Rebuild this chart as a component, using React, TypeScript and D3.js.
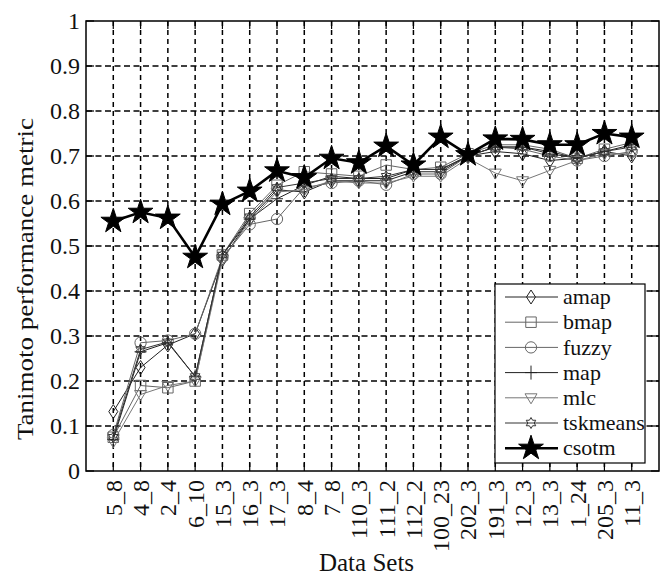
import * as d3 from "d3";

// data sets along the x axis
const dataSets = ["5_8", "4_8", "2_4", "6_10", "15_3", "16_3", "17_3", "8_4", "7_8", "110_3",
  "111_2", "112_2", "100_23", "202_3", "191_3", "12_3", "13_3", "1_24", "205_3", "11_3"];

const yTicks = [0, 0.1, 0.2, 0.3, 0.4, 0.5, 0.6, 0.7, 0.8, 0.9, 1];

const amap = [0.132, 0.23, 0.28, 0.305, 0.47, 0.56, 0.625, 0.62, 0.645, 0.645, 0.645, 0.665, 0.665, 0.7, 0.71, 0.705, 0.69, 0.695, 0.71, 0.7];
const bmap = [0.075, 0.19, 0.185, 0.2, 0.48, 0.572, 0.635, 0.665, 0.66, 0.655, 0.68, 0.67, 0.675, 0.705, 0.725, 0.725, 0.715, 0.695, 0.715, 0.73];
const fuzzy = [0.08, 0.285, 0.29, 0.305, 0.475, 0.548, 0.56, 0.63, 0.64, 0.645, 0.636, 0.66, 0.66, 0.7, 0.72, 0.715, 0.7, 0.69, 0.7, 0.71];
const map = [0.07, 0.265, 0.285, 0.21, 0.48, 0.56, 0.605, 0.635, 0.655, 0.65, 0.65, 0.67, 0.67, 0.7, 0.72, 0.72, 0.71, 0.695, 0.71, 0.725];
const mlc = [0.065, 0.17, 0.19, 0.2, 0.47, 0.555, 0.62, 0.625, 0.645, 0.64, 0.64, 0.655, 0.655, 0.695, 0.662, 0.645, 0.668, 0.69, 0.705, 0.705];
const tskmeans = [0.075, 0.27, 0.287, 0.21, 0.48, 0.565, 0.63, 0.64, 0.65, 0.65, 0.655, 0.67, 0.67, 0.7, 0.72, 0.72, 0.705, 0.695, 0.71, 0.72];
const csotm = [0.555, 0.575, 0.562, 0.475, 0.593, 0.622, 0.667, 0.652, 0.695, 0.685, 0.722, 0.68, 0.742, 0.703, 0.738, 0.737, 0.725, 0.725, 0.75, 0.742];

type Marker = "diamond" | "square" | "circle" | "plus" | "triangle" | "hexagram" | "star";

const series: { name: string; values: number[]; color: string; width: number; marker: Marker }[] = [
  { name: "amap", values: amap, color: "#222", width: 1, marker: "diamond" },
  { name: "bmap", values: bmap, color: "#666", width: 1, marker: "square" },
  { name: "fuzzy", values: fuzzy, color: "#666", width: 1, marker: "circle" },
  { name: "map", values: map, color: "#222", width: 1, marker: "plus" },
  { name: "mlc", values: mlc, color: "#777", width: 1, marker: "triangle" },
  { name: "tskmeans", values: tskmeans, color: "#333", width: 1, marker: "hexagram" },
  { name: "csotm", values: csotm, color: "#000", width: 2.6, marker: "star" },
];

const W = 660;
const H = 576;
const left = 86, right = 659, top = 21, bottom = 471;
const serif = { fontFamily: "'Liberation Serif', 'DejaVu Serif', serif" };

function hexagram(r: number) {
  const pts: string[] = [];
  for (let i = 0; i < 12; i++) {
    const a = (Math.PI / 6) * i - Math.PI / 2;
    const rr = i % 2 === 0 ? r : r * 0.58;
    pts.push(`${(rr * Math.cos(a)).toFixed(2)},${(rr * Math.sin(a)).toFixed(2)}`);
  }
  return "M" + pts.join("L") + "Z";
}

function markerPath(m: Marker) {
  switch (m) {
    case "diamond": return "M0,-7L4.5,0L0,7L-4.5,0Z";
    case "square": return d3.symbol(d3.symbolSquare, 110)()!;
    case "circle": return d3.symbol(d3.symbolCircle, 100)()!;
    case "plus": return "M-6,0L6,0M0,-7L0,7";
    case "triangle": return "M-6,-4L6,-4L0,6Z";
    case "hexagram": return hexagram(5.5);
    case "star": return d3.symbol(d3.symbolStar, 190)()!;
  }
}

const MarkerShape = ({ m, color, x, y }: { m: Marker; color: string; x: number; y: number }) => (
  <path
    d={markerPath(m)}
    transform={`translate(${x},${y})`}
    fill={m === "star" ? "#000" : "none"}
    stroke={color}
    strokeWidth={1}
  />
);

export default function App() {
  const x = d3.scaleLinear().domain([0, dataSets.length + 1]).range([left, right]);
  const y = d3.scaleLinear().domain([0, 1]).range([bottom, top]);
  const line = d3.line<number>().x((_, i) => x(i + 1)).y((d) => y(d));

  const legendX = 495, legendY = 284, legendW = 150, legendH = 179;
  const rowH = 25.2;

  return (
    <svg width={W} height={H} style={{ position: "absolute", left: 0, top: 0, background: "#fff" }}>
      <rect width={W} height={H} fill="#fff" />
      {/* grid */}
      {yTicks.slice(1, -1).map((t) => (
        <line key={"gy" + t} x1={left} x2={right} y1={y(t)} y2={y(t)} stroke="#000" strokeWidth={1.5} strokeDasharray="6,3.5" />
      ))}
      {dataSets.map((d, i) => (
        <line key={"gx" + d} x1={x(i + 1)} x2={x(i + 1)} y1={top} y2={bottom} stroke="#000" strokeWidth={1.5} strokeDasharray="5,4" />
      ))}
      {/* tick marks */}
      {yTicks.map((t) => (
        <g key={"ty" + t}>
          <line x1={left} x2={left + 8} y1={y(t)} y2={y(t)} stroke="#000" strokeWidth={1.2} />
          <line x1={right - 8} x2={right} y1={y(t)} y2={y(t)} stroke="#000" strokeWidth={1.2} />
        </g>
      ))}
      {dataSets.map((d, i) => (
        <g key={"tx" + d}>
          <line x1={x(i + 1)} x2={x(i + 1)} y1={bottom} y2={bottom - 8} stroke="#000" strokeWidth={1.2} />
          <line x1={x(i + 1)} x2={x(i + 1)} y1={top} y2={top + 8} stroke="#000" strokeWidth={1.2} />
        </g>
      ))}
      {/* series */}
      {series.map((s) => (
        <g key={s.name}>
          <path d={line(s.values)!} fill="none" stroke={s.color} strokeWidth={s.width} />
          {s.values.map((v, i) => (
            <MarkerShape key={i} m={s.marker} color={s.color} x={x(i + 1)} y={y(v)} />
          ))}
        </g>
      ))}
      {/* frame */}
      <rect x={left} y={top} width={right - left} height={bottom - top} fill="none" stroke="#000" strokeWidth={1.5} />
      {/* y tick labels */}
      {yTicks.map((t) => (
        <text key={"ly" + t} x={80} y={y(t)} dy="0.35em" textAnchor="end" fontSize={24} fill="#111" style={serif}>
          {d3.format("~g")(t)}
        </text>
      ))}
      {/* x tick labels */}
      {dataSets.map((d, i) => (
        <text key={"lx" + d} transform={`translate(${x(i + 1)},480) rotate(-90)`} dy="0.35em" textAnchor="end" fontSize={24} fill="#111" style={serif}>
          {d}
        </text>
      ))}
      <text x={(left + right) / 2 - 6} y={571} textAnchor="middle" fontSize={25} fill="#111" style={serif}>Data Sets</text>
      <text transform={`translate(33,279) rotate(-90)`} textAnchor="middle" fontSize={24} fill="#111" style={serif}
        textLength={322} lengthAdjust="spacingAndGlyphs">Tanimoto performance metric</text>
      {/* legend */}
      <rect x={legendX} y={legendY} width={legendW} height={legendH} fill="#fff" stroke="#000" strokeWidth={1.2} />
      {series.map((s, i) => {
        const cy = legendY + 13 + i * rowH;
        return (
          <g key={"lg" + s.name}>
            <line x1={legendX + 10} x2={legendX + 63} y1={cy} y2={cy} stroke={s.color} strokeWidth={s.width} />
            <MarkerShape m={s.marker} color={s.color} x={legendX + 36} y={cy} />
            <text x={legendX + 68} y={cy} dy="0.33em" fontSize={22} fill="#111" style={serif}>{s.name}</text>
          </g>
        );
      })}
    </svg>
  );
}
